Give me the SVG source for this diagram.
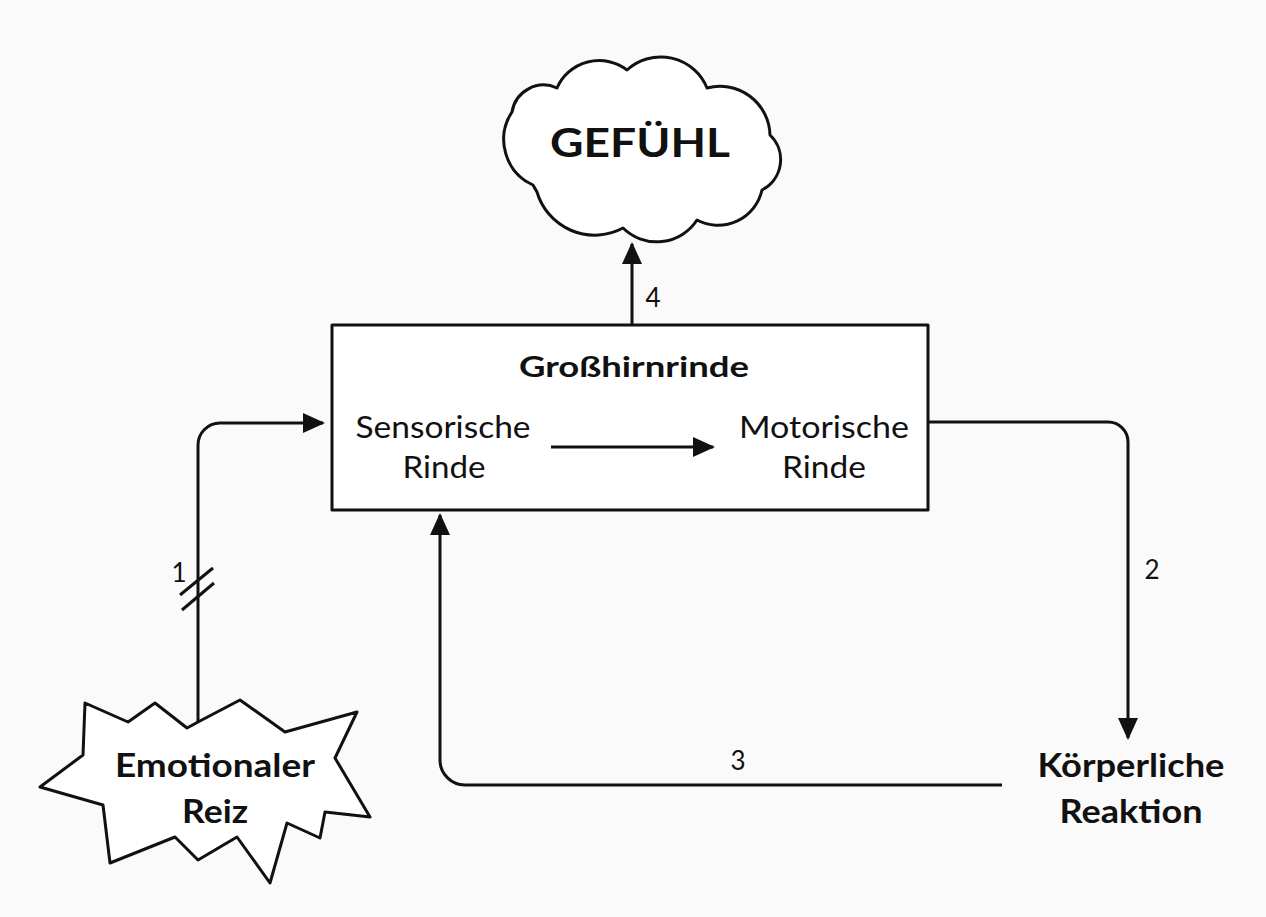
<svg xmlns="http://www.w3.org/2000/svg" width="1266" height="917" viewBox="0 0 1266 917">
  <style>
    .outline { fill: #ffffff; stroke: #111; stroke-width: 3; stroke-linejoin: round; }
    .wire { fill: none; stroke: #111; stroke-width: 3; }
    .bold { font-family: Lato, "Liberation Sans", sans-serif; font-weight: 700; fill: #111; text-anchor: middle; }
    .reg { font-family: Lato, "Liberation Sans", sans-serif; font-weight: 400; fill: #111; text-anchor: middle; }
    .num { font-family: Lato, "Liberation Sans", sans-serif; font-weight: 400; fill: #111; font-size: 26px; text-anchor: middle; }
  </style>
  <defs>
    <marker id="head" markerUnits="userSpaceOnUse" markerWidth="24" markerHeight="22" refX="20" refY="10" orient="auto">
      <path d="M0,0 L22,10 L0,20 Z" fill="#111"/>
    </marker>
  </defs>

  <rect x="0" y="0" width="1266" height="917" fill="#fafafa"/>

  <!-- feeling cloud -->
  <g id="gefuehl">
    <path class="outline" stroke-width="2.5" d="M533,185
      A50,50 0 0 1 512,112
      A32,32 0 0 1 557,88
      A46,46 0 0 1 627,70
      A50,50 0 0 1 707,88
      A50,50 0 0 1 770,135
      A34,34 0 0 1 762,190
      A45,45 0 0 1 697,220
      A48,48 0 0 1 623,228
      A60,60 0 0 1 537,192 Z"/>
    <text class="bold" x="640" y="157" font-size="40" font-weight="900" textLength="180" lengthAdjust="spacingAndGlyphs">GEFÜHL</text>
  </g>

  <!-- cerebral cortex box -->
  <g id="grosshirnrinde">
    <rect class="outline" x="332" y="325" width="596" height="185" fill="#fafafa"/>
    <text class="bold" x="634" y="377" font-size="28" textLength="230" lengthAdjust="spacingAndGlyphs">Großhirnrinde</text>
  </g>

  <g id="sensorische-rinde">
    <text class="reg" x="443" y="438" font-size="31" textLength="175" lengthAdjust="spacingAndGlyphs">Sensorische</text>
    <text class="reg" x="444" y="478" font-size="31" textLength="83" lengthAdjust="spacingAndGlyphs">Rinde</text>
  </g>

  <g id="motorische-rinde">
    <text class="reg" x="824" y="438" font-size="31" textLength="170" lengthAdjust="spacingAndGlyphs">Motorische</text>
    <text class="reg" x="824" y="478" font-size="31" textLength="84" lengthAdjust="spacingAndGlyphs">Rinde</text>
  </g>

  <!-- emotional stimulus burst -->
  <g id="emotionaler-reiz">
    <polygon class="outline" stroke-width="2.5" points="85,703 128,722 155,703 187,728 198,722 240,700 285,732 357,712 335,758 370,817 325,812 320,838 287,823 270,883 237,837 198,860 175,837 110,863 103,805 40,787 83,755"/>
    <text class="bold" x="215" y="777" font-size="32" textLength="200" lengthAdjust="spacingAndGlyphs">Emotionaler</text>
    <text class="bold" x="215" y="823" font-size="32" textLength="66" lengthAdjust="spacingAndGlyphs">Reiz</text>
  </g>

  <!-- bodily reaction -->
  <g id="koerperliche-reaktion">
    <text class="bold" x="1131" y="777" font-size="32" textLength="187" lengthAdjust="spacingAndGlyphs">Körperliche</text>
    <text class="bold" x="1131" y="823" font-size="32" textLength="143" lengthAdjust="spacingAndGlyphs">Reaktion</text>
  </g>

  <!-- connectors -->
  <g id="connectors">
    <path class="wire" d="M198,722 V445 A22,22 0 0 1 220,423 H323" marker-end="url(#head)"/>
    <line class="wire" x1="180" y1="595" x2="213" y2="568"/>
    <line class="wire" x1="182" y1="610" x2="214" y2="583"/>
    <path class="wire" d="M928,422 H1108 A20,20 0 0 1 1128,442 V738" marker-end="url(#head)"/>
    <path class="wire" d="M1002,785 H465 A25,25 0 0 1 440,760 V515" marker-end="url(#head)"/>
    <path class="wire" d="M632,325 V244" marker-end="url(#head)"/>
    <path class="wire" d="M551,447 H713" marker-end="url(#head)"/>

    <text class="num" x="179" y="582">1</text>
    <text class="num" x="1152" y="579">2</text>
    <text class="num" x="738" y="770">3</text>
    <text class="num" x="653" y="307">4</text>
  </g>
</svg>
